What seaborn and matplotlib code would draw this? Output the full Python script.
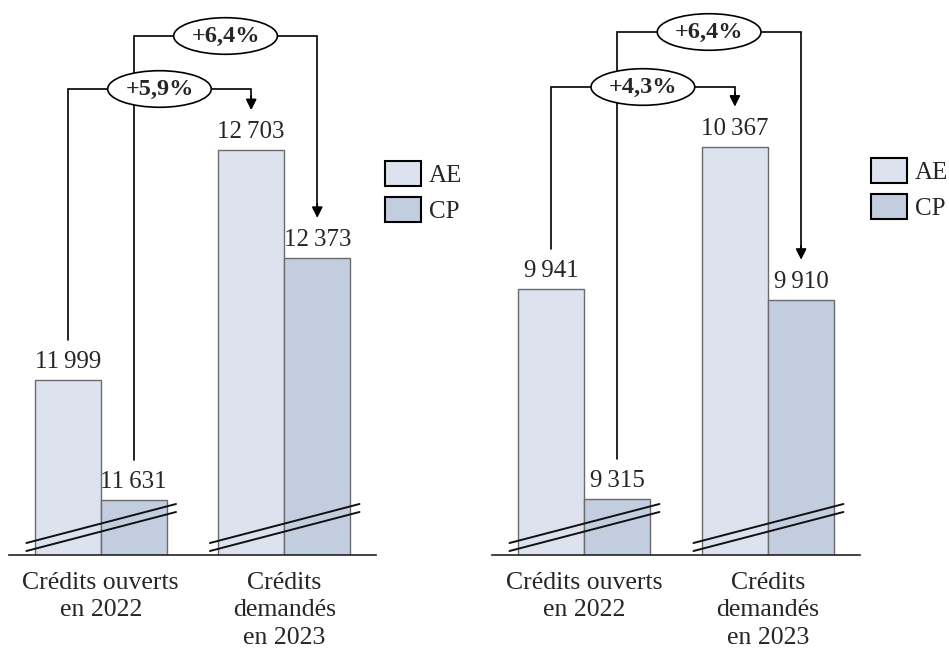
import pandas as pd
import matplotlib.pyplot as plt
import seaborn as sns
from matplotlib.patches import Patch

# donnees
categories = ["Crédits ouverts\nen 2022", "Crédits\ndemandés\nen 2023"]
series = ["AE", "CP"]
left_ae = [11999, 12703]
left_cp = [11631, 12373]
right_ae = [9941, 10367]
right_cp = [9315, 9910]
left_pct = ["+5,9%", "+6,4%"]   # AE, CP
right_pct = ["+4,3%", "+6,4%"]

ae_color = "#dce3ee"
cp_color = "#c3cde0"

sns.set_style("white")
plt.rcParams['font.family'] = ['Liberation Serif', 'DejaVu Serif']

fig = plt.figure(figsize=(9.49, 6.48), dpi=100)
W, H = 949, 648
AX_H = 550  # hauteur des axes en px


def fmt(v):
    s = f"{v:,}".replace(",", "\u2009")
    return s


def panel(left_px, width_px, ae, cp, pct, ymin, scale, hfrac, legend_xy):
    ax = fig.add_axes([left_px / W, 93 / H, width_px / W, AX_H / H])
    df = pd.DataFrame({
        "cat": categories * 2,
        "serie": ["AE"] * 2 + ["CP"] * 2,
        "val": ae + cp,
    })
    sns.barplot(data=df, x="cat", y="val", hue="serie", palette=[ae_color, cp_color],
                width=0.72, edgecolor="#6b6b6b", linewidth=1, ax=ax, legend=False,
                saturation=1)
    ymax = ymin + AX_H / scale
    ax.set_ylim(ymin, ymax)
    ax.set_xlim(-0.5, 1.5)
    ax.set_xlabel("")
    ax.set_ylabel("")
    ax.set_yticks([])
    for s in ["top", "left", "right"]:
        ax.spines[s].set_visible(False)
    ax.spines["bottom"].set_color("#222222")
    ax.spines["bottom"].set_linewidth(1.2)
    ax.tick_params(axis="x", length=0, labelsize=18.5, pad=12)
    for t in ax.get_xticklabels():
        t.set_linespacing(1.32)

    for cont, vals in zip(ax.containers, [ae, cp]):
        ax.bar_label(cont, labels=[fmt(v) for v in vals], padding=5, fontsize=18)

    # marques de rupture
    for g in range(2):
        for off in [4, 12]:
            y0 = ymin + off / scale
            y1 = ymin + (off + 39) / scale
            ax.plot([g - 0.405, g + 0.41], [y0, y1], color="#111111", lw=1.4,
                    zorder=4, clip_on=False)

    # fleches d'evolution
    gap = 40 / scale
    for i, (vals, dx) in enumerate([(ae, -0.18), (cp, 0.18)]):
        x0, x1 = 0 + dx, 1 + dx
        yh = ymin + hfrac[i] * (ymax - ymin)
        ax.plot([x0, x0, x1, x1], [vals[0] + gap, yh, yh, vals[1] + gap + 10 / scale],
                color="black", lw=1.2, zorder=3, clip_on=False,
                solid_joinstyle="miter")
        ax.annotate("", xy=(x1, vals[1] + gap), xytext=(x1, vals[1] + gap + 14 / scale),
                    arrowprops=dict(arrowstyle="-|>", color="black", lw=1.2,
                                    mutation_scale=16, shrinkA=0, shrinkB=0),
                    zorder=3, annotation_clip=False)
        ax.text((x0 + x1) / 2, yh, pct[i], ha="center", va="center",
                fontsize=17.5, fontweight="bold", zorder=6,
                bbox=dict(boxstyle="ellipse,pad=0.1", fc="white", ec="black", lw=1.2))

    handles = [Patch(fc=ae_color, ec="black", lw=1.5, label="AE"),
               Patch(fc=cp_color, ec="black", lw=1.5, label="CP")]
    fig.legend(handles=handles, loc="upper left",
               bbox_to_anchor=(legend_xy[0] / W, 1 - legend_xy[1] / H),
               frameon=False, borderpad=0, borderaxespad=0, fontsize=18,
               handlelength=1.45, handleheight=1.15, handletextpad=0.3,
               labelspacing=0.42)
    return ax


panel(9, 367, left_ae, left_cp, left_pct, 11463, 0.3265, [466 / AX_H, 519 / AX_H], (385, 161))
panel(492, 368, right_ae, right_cp, right_pct, 9148, 0.335, [468 / AX_H, 523 / AX_H], (871, 158))

fig.savefig("out.png", dpi=100)
